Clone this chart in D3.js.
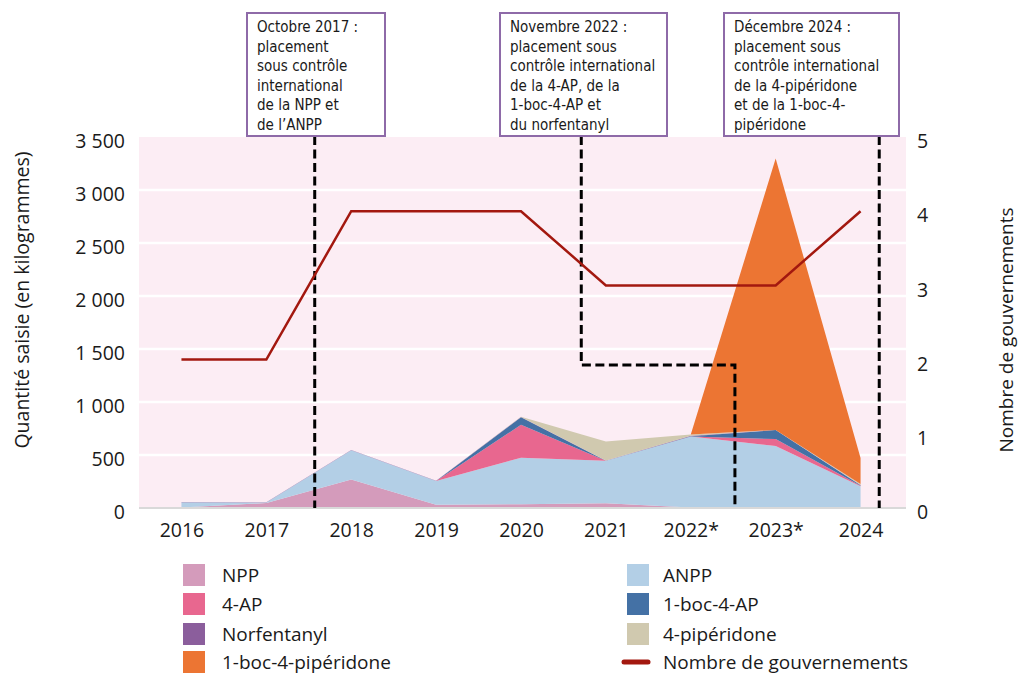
<!DOCTYPE html>
<html>
<head>
<meta charset="utf-8">
<script src="https://cdn.jsdelivr.net/npm/d3@7"></script>
<style>
  body { margin: 0; background: #fff; }
  svg text { font-family: "Open Sans", "Noto Sans", sans-serif; fill: #1a1a1a; }
  .box text { font-family: "Liberation Sans Narrow", "DejaVu Sans Condensed", sans-serif; font-stretch: condensed; }
</style>
</head>
<body>
<svg id="chart" width="1019" height="677"></svg>
<script>
'use strict'

// years on the x axis
var years = ['2016', '2017', '2018', '2019', '2020', '2021', '2022*', '2023*', '2024'];

// seizures in kg (stack order bottom -> top)
var npp            = [5, 47, 270, 30, 35, 45, 5, 0, 0];
var anpp           = [50, 5, 275, 225, 440, 400, 670, 585, 205];
var ap4            = [0, 0, 0, 0, 310, 0, 0, 65, 5];
var boc4ap         = [0, 0, 0, 0, 70, 0, 3, 85, 5];
var norfentanyl    = [2, 2, 3, 3, 3, 3, 3, 2, 3];
var piperidone     = [0, 0, 0, 0, 3, 180, 12, 0, 8];
var boc4piperidone = [0, 0, 0, 0, 0, 0, 0, 2560, 245];

// number of governments (right axis)
var governments = [2, 2, 4, 4, 4, 3, 3, 3, 4];

var seriesNames  = ['NPP', 'ANPP', '4-AP', '1-boc-4-AP', 'Norfentanyl', '4-pipéridone', '1-boc-4-pipéridone'];
var seriesValues = [npp, anpp, ap4, boc4ap, norfentanyl, piperidone, boc4piperidone];
var seriesColors = ['#d49bbb', '#b3cfe6', '#e8678f', '#4471a5', '#8b5e9c', '#d0c9af', '#ec7533'];

var leftTicks  = [0, 500, 1000, 1500, 2000, 2500, 3000, 3500];
var rightTicks = [0, 1, 2, 3, 4, 5];

// scheduling events: position in year-index units, text lines
var eventPos   = [1.57, 4.71, 8.22];
var eventStep  = [null, {to: 6.52, level: 1350}, null];
var eventTexts = [
	['Octobre 2017 :', 'placement', 'sous contrôle', 'international', 'de la NPP et', 'de l\u2019ANPP'],
	['Novembre 2022 :', 'placement sous', 'contrôle international', 'de la 4-AP, de la', '1-boc-4-AP et', 'du norfentanyl'],
	['Décembre 2024 :', 'placement sous', 'contrôle international', 'de la 4-pipéridone', 'et de la 1-boc-4-', 'pipéridone']
];

// layout
var plot = {left: 139, right: 906, top: 137, bottom: 508};
var boxes = [{x: 247, w: 138}, {x: 500, w: 167}, {x: 724, w: 175}];
var boxTop = 13, boxBottom = 136;
var tickSize = 19.5, labelSize = 19;

var svg = d3.select('#chart');

var x = d3.scalePoint().domain(years).range([plot.left, plot.right - 3]).padding(0.5);
var xi = d3.scaleLinear().domain([0, years.length - 1]).range([x(years[0]), x(years[years.length - 1])]);
var y = d3.scaleLinear().domain([0, 3500]).range([plot.bottom, plot.top]);
var y2 = d3.scaleLinear().domain([0, 5]).range([plot.bottom, plot.top]);

var fr = d3.formatLocale({decimal: ',', thousands: '\u2009', grouping: [3], currency: ['', '']});
var fmt = function(d){ return fr.format(',')(d).replace('\u2009', ' '); };

// background + gridlines
svg.append('rect')
	.attr('x', plot.left).attr('y', plot.top)
	.attr('width', plot.right - plot.left).attr('height', plot.bottom - plot.top)
	.attr('fill', '#fcedf4');

svg.append('g').selectAll('line')
	.data(leftTicks.filter(function(d){ return d > 0 && d < 3500; }))
	.enter().append('line')
	.attr('x1', plot.left).attr('x2', plot.right)
	.attr('y1', function(d){ return y(d); }).attr('y2', function(d){ return y(d); })
	.attr('stroke', '#fff').attr('stroke-width', 2.5);

// stacked areas
var table = years.map(function(yr, i){
	var row = {year: yr};
	seriesNames.forEach(function(n, k){ row[n] = seriesValues[k][i]; });
	return row;
});
var stacked = d3.stack().keys(seriesNames)(table);

var area = d3.area()
	.x(function(d){ return x(d.data.year); })
	.y0(function(d){ return y(d[0]); })
	.y1(function(d){ return y(d[1]); });

svg.append('g').selectAll('path')
	.data(stacked)
	.enter().append('path')
	.attr('d', area)
	.attr('fill', function(d, i){ return seriesColors[i]; });

// baseline
svg.append('line')
	.attr('x1', plot.left).attr('x2', plot.right)
	.attr('y1', plot.bottom).attr('y2', plot.bottom)
	.attr('stroke', '#d9d9d9').attr('stroke-width', 2);

// dashed event lines
var dashes = svg.append('g')
	.attr('fill', 'none').attr('stroke', '#000')
	.attr('stroke-width', 3).attr('stroke-dasharray', '9,4.5');

eventPos.forEach(function(p, i){
	var pts;
	if(eventStep[i]){
		pts = [[xi(p), boxBottom], [xi(p), y(eventStep[i].level)],
			[xi(eventStep[i].to), y(eventStep[i].level)], [xi(eventStep[i].to), plot.bottom]];
	}
	else{
		pts = [[xi(p), boxBottom], [xi(p), plot.bottom]];
	}
	dashes.append('path').attr('d', d3.line()(pts));
});

// governments line
svg.append('path')
	.datum(governments)
	.attr('fill', 'none')
	.attr('stroke', '#a3180f')
	.attr('stroke-width', 2.5)
	.attr('d', d3.line()
		.x(function(d, i){ return x(years[i]); })
		.y(function(d){ return y2(d); }));

// annotation boxes
var box = svg.append('g').attr('class', 'box').selectAll('g')
	.data(eventTexts)
	.enter().append('g');

box.append('rect')
	.attr('x', function(d, i){ return boxes[i].x; })
	.attr('y', boxTop)
	.attr('width', function(d, i){ return boxes[i].w; })
	.attr('height', boxBottom - boxTop)
	.attr('fill', '#fff')
	.attr('stroke', '#8e6aa8').attr('stroke-width', 2);

box.each(function(lines, i){
	d3.select(this).selectAll('text')
		.data(lines)
		.enter().append('text')
		.attr('x', boxes[i].x + 10)
		.attr('y', function(d, j){ return boxTop + 19 + j * 19.5; })
		.attr('font-size', 15)
		.text(function(d){ return d; });
});

// axes
var axL = svg.append('g')
	.attr('transform', 'translate(' + plot.left + ',0)')
	.call(d3.axisLeft(y).tickValues(leftTicks).tickFormat(fmt).tickSize(0).tickPadding(14));
var axR = svg.append('g')
	.attr('transform', 'translate(' + plot.right + ',0)')
	.call(d3.axisRight(y2).tickValues(rightTicks).tickFormat(d3.format('d')).tickSize(0).tickPadding(11));
var axB = svg.append('g')
	.attr('transform', 'translate(0,' + plot.bottom + ')')
	.call(d3.axisBottom(x).tickSize(0).tickPadding(15));

[axL, axR, axB].forEach(function(a){
	a.select('.domain').remove();
	a.selectAll('text').attr('font-size', tickSize).attr('fill', '#1a1a1a')
		.style('font-family', '"Open Sans", "Noto Sans", sans-serif');
});
axL.selectAll('text').attr('dy', '0.55em');
axR.selectAll('text').attr('dy', '0.55em');

// axis titles
svg.append('text')
	.attr('transform', 'translate(29,300) rotate(-90)')
	.attr('text-anchor', 'middle').attr('font-size', 19.5)
	.text('Quantité saisie (en kilogrammes)');
svg.append('text')
	.attr('transform', 'translate(1013,330) rotate(-90)')
	.attr('text-anchor', 'middle').attr('font-size', labelSize)
	.text('Nombre de gouvernements');

// legend
var legendLeft  = ['NPP', '4-AP', 'Norfentanyl', '1-boc-4-pipéridone'];
var legendRight = ['ANPP', '1-boc-4-AP', '4-pipéridone'];
var rowY = [575, 604, 634, 662];

function legendCol(names, sx, tx){
	names.forEach(function(n, i){
		svg.append('rect')
			.attr('x', sx).attr('y', rowY[i] - 11)
			.attr('width', 22).attr('height', 22)
			.attr('fill', seriesColors[seriesNames.indexOf(n)]);
		svg.append('text')
			.attr('x', tx).attr('y', rowY[i]).attr('dy', '0.35em')
			.attr('font-size', labelSize).text(n);
	});
}
legendCol(legendLeft, 183, 222);
legendCol(legendRight, 627, 663);

svg.append('line')
	.attr('x1', 624).attr('x2', 648)
	.attr('y1', rowY[3]).attr('y2', rowY[3])
	.attr('stroke', '#a3180f').attr('stroke-width', 5).attr('stroke-linecap', 'round');
svg.append('text')
	.attr('x', 663).attr('y', rowY[3]).attr('dy', '0.35em')
	.attr('font-size', labelSize).text('Nombre de gouvernements');
</script>
</body>
</html>
